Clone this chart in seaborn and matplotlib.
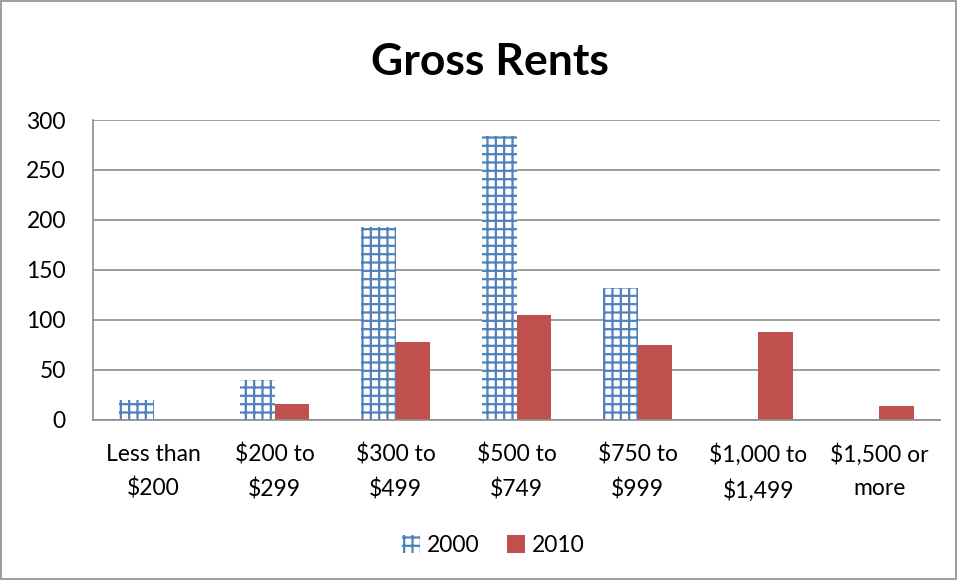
import pandas as pd
import matplotlib.pyplot as plt
import matplotlib.patches as mpatches
import seaborn as sns

# Gross rent brackets and counts of units
categories = ["Less than\n$200", "$200 to\n$299", "$300 to\n$499", "$500 to\n$749",
              "$750 to\n$999", "$1,000 to\n$1,499", "$1,500 or\nmore"]
rent_2000 = [20, 40, 193, 284, 132, 0, 0]
rent_2010 = [0, 16, 78, 105, 75, 88, 14]
years = ["2000", "2010"]

df = pd.DataFrame({
    "Rent": categories * 2,
    "Count": rent_2000 + rent_2010,
    "Year": [years[0]] * len(categories) + [years[1]] * len(categories),
})

sns.set_style("white")
plt.rcParams["font.family"] = ["Lato", "DejaVu Sans"]
plt.rcParams["text.color"] = "black"
plt.rcParams["xtick.labelcolor"] = "black"
plt.rcParams["ytick.labelcolor"] = "black"
plt.rcParams["hatch.linewidth"] = 1.6

blue = "#4F81BD"
red = "#C0504D"
grid_gray = "#8C8C8C"

fig = plt.figure(figsize=(9.58, 5.8), dpi=100)
ax = fig.add_axes([0.0971, 0.2759, 0.8841, 0.5172])

sns.barplot(data=df, x="Rent", y="Count", hue="Year", palette=[blue, red],
            width=0.575, gap=0, saturation=1, ax=ax, legend=False)

# 2000 bars: blue grid pattern on white
for bar in ax.containers[0]:
    bar.set_facecolor("white")
    bar.set_edgecolor(blue)
    bar.set_hatch("++")
    bar.set_linewidth(0)
for bar in ax.containers[1]:
    bar.set_linewidth(0)

ax.set_ylim(0, 300)
ax.set_xlim(-0.5, len(categories) - 0.5)
ax.set_yticks(range(0, 301, 50))
ax.set_xticks(range(len(categories)))
ax.set_xticklabels([c.replace("$", r"\$") for c in categories], linespacing=1.7)
ax.set_xticks([i - 0.5 for i in range(len(categories) + 1)], minor=True)
ax.tick_params(axis="x", which="major", length=0, pad=17, labelsize=16.5)
ax.tick_params(axis="x", which="minor", length=7, color=grid_gray, width=1.2)
ax.tick_params(axis="y", length=6.5, color=grid_gray, width=1.2, labelsize=16.5, pad=13)
ax.yaxis.grid(True, color=grid_gray, linewidth=1.2)
ax.set_axisbelow(True)
ax.set_xlabel("")
ax.set_ylabel("")

for side in ["top", "right"]:
    ax.spines[side].set_visible(False)
for side in ["left", "bottom"]:
    ax.spines[side].set_color(grid_gray)
    ax.spines[side].set_linewidth(1.2)

fig.text(0.511, 0.893, "Gross Rents", ha="center", va="center",
         fontsize=32, fontweight="bold")

handles = [mpatches.Patch(facecolor="white", edgecolor=blue, hatch="++", linewidth=0, label="2000"),
           mpatches.Patch(facecolor=red, linewidth=0, label="2010")]
fig.legend(handles=handles, loc="center", bbox_to_anchor=(0.515, 0.06), ncol=2,
           frameon=False, fontsize=16.5, handlelength=0.8, handleheight=0.8,
           handletextpad=0.3, columnspacing=1.2)

# outer chart border
fig.patches.append(mpatches.Rectangle((0.001, 0.001), 0.997, 0.997, transform=fig.transFigure,
                                      fill=False, edgecolor=grid_gray, linewidth=1.2))

fig.savefig("out.png", dpi=100)
